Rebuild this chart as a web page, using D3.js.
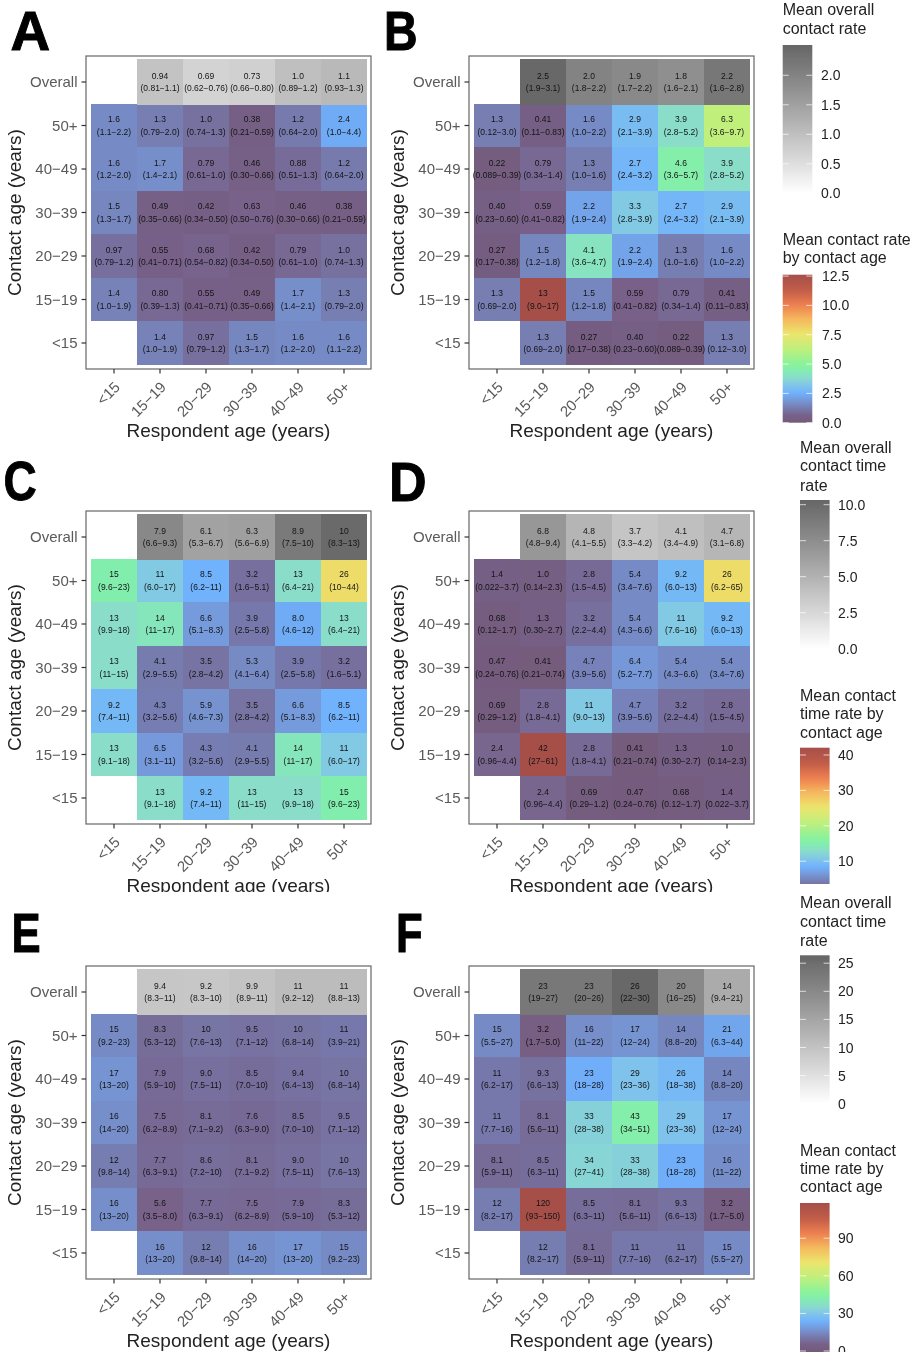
<!DOCTYPE html>
<html>
<head>
<meta charset="utf-8">
<script src="https://cdn.jsdelivr.net/npm/d3@7"></script>
<style>
html,body{margin:0;padding:0;background:#fff;overflow:hidden}
svg{display:block}
text{font-family:"Liberation Sans",Arial,sans-serif}
</style>
</head>
<body>
<svg id="chart" width="919" height="1352"></svg>
<script>
const respondentAges = ["<15","15−19","20−29","30−39","40−49","50+"];
const contactAges = ["Overall","50+","40−49","30−39","20−29","15−19","<15"];

const valuesA = [
 [null,0.94,0.69,0.73,1.0,1.1],
 [1.6,1.3,1.0,0.38,1.2,2.4],
 [1.6,1.7,0.79,0.46,0.88,1.2],
 [1.5,0.49,0.42,0.63,0.46,0.38],
 [0.97,0.55,0.68,0.42,0.79,1.0],
 [1.4,0.80,0.55,0.49,1.7,1.3],
 [null,1.4,0.97,1.5,1.6,1.6]];
const intervalsA = [
 [null,"0.81−1.1","0.62−0.76","0.66−0.80","0.89−1.2","0.93−1.3"],
 ["1.1−2.2","0.79−2.0","0.74−1.3","0.21−0.59","0.64−2.0","1.0−4.4"],
 ["1.2−2.0","1.4−2.1","0.61−1.0","0.30−0.66","0.51−1.3","0.64−2.0"],
 ["1.3−1.7","0.35−0.66","0.34−0.50","0.50−0.76","0.30−0.66","0.21−0.59"],
 ["0.79−1.2","0.41−0.71","0.54−0.82","0.34−0.50","0.61−1.0","0.74−1.3"],
 ["1.0−1.9","0.39−1.3","0.41−0.71","0.35−0.66","1.4−2.1","0.79−2.0"],
 [null,"1.0−1.9","0.79−1.2","1.3−1.7","1.2−2.0","1.1−2.2"]];

const valuesB = [
 [null,2.5,2.0,1.9,1.8,2.2],
 [1.3,0.41,1.6,2.9,3.9,6.3],
 [0.22,0.79,1.3,2.7,4.6,3.9],
 [0.40,0.59,2.2,3.3,2.7,2.9],
 [0.27,1.5,4.1,2.2,1.3,1.6],
 [1.3,13,1.5,0.59,0.79,0.41],
 [null,1.3,0.27,0.40,0.22,1.3]];
const intervalsB = [
 [null,"1.9−3.1","1.8−2.2","1.7−2.2","1.6−2.1","1.6−2.8"],
 ["0.12−3.0","0.11−0.83","1.0−2.2","2.1−3.9","2.8−5.2","3.6−9.7"],
 ["0.089−0.39","0.34−1.4","1.0−1.6","2.4−3.2","3.6−5.7","2.8−5.2"],
 ["0.23−0.60","0.41−0.82","1.9−2.4","2.8−3.9","2.4−3.2","2.1−3.9"],
 ["0.17−0.38","1.2−1.8","3.6−4.7","1.9−2.4","1.0−1.6","1.0−2.2"],
 ["0.69−2.0","9.0−17","1.2−1.8","0.41−0.82","0.34−1.4","0.11−0.83"],
 [null,"0.69−2.0","0.17−0.38","0.23−0.60","0.089−0.39","0.12−3.0"]];

const valuesC = [
 [null,7.9,6.1,6.3,8.9,10],
 [15,11,8.5,3.2,13,26],
 [13,14,6.6,3.9,8.0,13],
 [13,4.1,3.5,5.3,3.9,3.2],
 [9.2,4.3,5.9,3.5,6.6,8.5],
 [13,6.5,4.3,4.1,14,11],
 [null,13,9.2,13,13,15]];
const intervalsC = [
 [null,"6.6−9.3","5.3−6.7","5.6−6.9","7.5−10","8.3−13"],
 ["9.6−23","6.0−17","6.2−11","1.6−5.1","6.4−21","10−44"],
 ["9.9−18","11−17","5.1−8.3","2.5−5.8","4.6−12","6.4−21"],
 ["11−15","2.9−5.5","2.8−4.2","4.1−6.4","2.5−5.8","1.6−5.1"],
 ["7.4−11","3.2−5.6","4.6−7.3","2.8−4.2","5.1−8.3","6.2−11"],
 ["9.1−18","3.1−11","3.2−5.6","2.9−5.5","11−17","6.0−17"],
 [null,"9.1−18","7.4−11","11−15","9.9−18","9.6−23"]];

const valuesD = [
 [null,6.8,4.8,3.7,4.1,4.7],
 [1.4,1.0,2.8,5.4,9.2,26],
 [0.68,1.3,3.2,5.4,11,9.2],
 [0.47,0.41,4.7,6.4,5.4,5.4],
 [0.69,2.8,11,4.7,3.2,2.8],
 [2.4,42,2.8,0.41,1.3,1.0],
 [null,2.4,0.69,0.47,0.68,1.4]];
const intervalsD = [
 [null,"4.8−9.4","4.1−5.5","3.3−4.2","3.4−4.9","3.1−6.8"],
 ["0.022−3.7","0.14−2.3","1.5−4.5","3.4−7.6","6.0−13","6.2−65"],
 ["0.12−1.7","0.30−2.7","2.2−4.4","4.3−6.6","7.6−16","6.0−13"],
 ["0.24−0.76","0.21−0.74","3.9−5.6","5.2−7.7","4.3−6.6","3.4−7.6"],
 ["0.29−1.2","1.8−4.1","9.0−13","3.9−5.6","2.2−4.4","1.5−4.5"],
 ["0.96−4.4","27−61","1.8−4.1","0.21−0.74","0.30−2.7","0.14−2.3"],
 [null,"0.96−4.4","0.29−1.2","0.24−0.76","0.12−1.7","0.022−3.7"]];

const valuesE = [
 [null,9.4,9.2,9.9,11,11],
 [15,8.3,10,9.5,10,11],
 [17,7.9,9.0,8.5,9.4,10],
 [16,7.5,8.1,7.6,8.5,9.5],
 [12,7.7,8.6,8.1,9.0,10],
 [16,5.6,7.7,7.5,7.9,8.3],
 [null,16,12,16,17,15]];
const intervalsE = [
 [null,"8.3−11","8.3−10","8.9−11","9.2−12","8.8−13"],
 ["9.2−23","5.3−12","7.6−13","7.1−12","6.8−14","3.9−21"],
 ["13−20","5.9−10","7.5−11","7.0−10","6.4−13","6.8−14"],
 ["14−20","6.2−8.9","7.1−9.2","6.3−9.0","7.0−10","7.1−12"],
 ["9.8−14","6.3−9.1","7.2−10","7.1−9.2","7.5−11","7.6−13"],
 ["13−20","3.5−8.0","6.3−9.1","6.2−8.9","5.9−10","5.3−12"],
 [null,"13−20","9.8−14","14−20","13−20","9.2−23"]];

const valuesF = [
 [null,23,23,26,20,14],
 [15,3.2,16,17,14,21],
 [11,9.3,23,29,26,14],
 [11,8.1,33,43,29,17],
 [8.1,8.5,34,33,23,16],
 [12,120,8.5,8.1,9.3,3.2],
 [null,12,8.1,11,11,15]];
const intervalsF = [
 [null,"19−27","20−26","22−30","16−25","9.4−21"],
 ["5.5−27","1.7−5.0","11−22","12−24","8.8−20","6.3−44"],
 ["6.2−17","6.6−13","18−28","23−36","18−38","8.8−20"],
 ["7.7−16","5.6−11","28−38","34−51","23−36","12−24"],
 ["5.9−11","6.3−11","27−41","28−38","18−28","11−22"],
 ["8.2−17","93−150","6.3−11","5.6−11","6.6−13","1.7−5.0"],
 [null,"8.2−17","5.9−11","7.7−16","6.2−17","5.5−27"]];

// colour ramp (position along the bar, colour)
const rainbowPositions = [0,0.05,0.1,0.15,0.2,0.25,0.3,0.36,0.4,0.5,0.6,0.7,0.8,0.9,1];
const rainbowColours = ["#735a7a","#78628a","#767cb0","#7697d6","#6fb1fd","#80c4ea","#8adace","#82efac","#8cf29a","#c0ef7c","#ece56c","#f5b85e","#ec7e50","#c05c48","#a64f4a"];
const grayHigh = "#666666";

const overallMaxAB = 2.51, cellMaxAB = 12.6;
const overallMaxCD = 10.33, cellMaxCD = 42;
const overallMaxEF = 26.4, cellMaxEF = 118;

const rainbow = d3.scaleLinear().domain(rainbowPositions).range(rainbowColours).interpolate(d3.interpolateRgb).clamp(true);
const rainbowScale = max => v => rainbow(v/max);
const grayScale = max => d3.scaleLinear().domain([0,max]).range(["#ffffff",grayHigh]).interpolate(d3.interpolateLab).clamp(true);

const fmt = d3.format(".2r");
const svg = d3.select("#chart");
const defs = svg.append("defs");
defs.append("filter").attr("id","soft").attr("x",0).attr("y",0).attr("width",1).attr("height",1)
  .attr("filterUnits","objectBoundingBox")
  .append("feGaussianBlur").attr("stdDeviation",0.4);
const root = svg.append("g").attr("filter","url(#soft)");
root.append("rect").attr("width",919).attr("height",1352).attr("fill","#fff");

const panels = [
 {letter:"A",dx:0,dy:0,lx:10.5,ly:50,ls:0.98,values:valuesA,intervals:intervalsA,oMax:overallMaxAB,cMax:cellMaxAB},
 {letter:"B",dx:383,dy:0,lx:384,ly:50,ls:0.83,values:valuesB,intervals:intervalsB,oMax:overallMaxAB,cMax:cellMaxAB},
 {letter:"C",dx:0,dy:455,lx:3.5,ly:500,ls:0.82,values:valuesC,intervals:intervalsC,oMax:overallMaxCD,cMax:cellMaxCD,clip:892},
 {letter:"D",dx:383,dy:455,lx:389,ly:501,ls:0.93,values:valuesD,intervals:intervalsD,oMax:overallMaxCD,cMax:cellMaxCD,clip:892},
 {letter:"E",dx:0,dy:910,lx:11.5,ly:952,ls:0.78,values:valuesE,intervals:intervalsE,oMax:overallMaxEF,cMax:cellMaxEF},
 {letter:"F",dx:383,dy:910,lx:396,ly:952,ls:0.78,values:valuesF,intervals:intervalsF,oMax:overallMaxEF,cMax:cellMaxEF}
];

const frame = {left:86,right:371,top:56,bottom:369};
const x = d3.scaleBand().domain(respondentAges).range([91,367]);
const y = d3.scaleBand().domain(contactAges).range([60.25,364.75]);

defs.append("clipPath").attr("id","cut").append("rect")
  .attr("x",-10).attr("y",-10).attr("width",400).attr("height",447);

panels.forEach(p=>{
  const g = root.append("g").attr("transform",`translate(${p.dx},${p.dy})`);
  const gray = grayScale(p.oMax), col = rainbowScale(p.cMax);
  const cells = [];
  p.values.forEach((row,ri)=>row.forEach((v,ci)=>{
    if(v!==null) cells.push({row:contactAges[ri],col:respondentAges[ci],v,ci:p.intervals[ri][ci]});
  }));
  g.append("g").selectAll("rect").data(cells.filter(d=>d.row!=="Overall")).join("rect")
    .attr("x",d=>x(d.col)).attr("y",d=>y(d.row))
    .attr("width",x.bandwidth()).attr("height",y.bandwidth())
    .attr("shape-rendering","crispEdges")
    .attr("fill",d=>col(d.v));
  g.append("g").selectAll("rect").data(cells.filter(d=>d.row==="Overall")).join("rect")
    .attr("x",d=>x(d.col)).attr("y",y("Overall")-1.5)
    .attr("width",x.bandwidth()).attr("height",y.bandwidth()+3)
    .attr("shape-rendering","crispEdges")
    .attr("fill",d=>gray(d.v));
  const lab = g.append("g").attr("text-anchor","middle").attr("fill","#141414").attr("font-size",8.5);
  lab.selectAll("text.v").data(cells).join("text").attr("class","v")
    .attr("x",d=>x(d.col)+x.bandwidth()/2).attr("y",d=>y(d.row)+y.bandwidth()/2-3.5)
    .text(d=>fmt(d.v));
  lab.selectAll("text.i").data(cells).join("text").attr("class","i")
    .attr("x",d=>x(d.col)+x.bandwidth()/2).attr("y",d=>y(d.row)+y.bandwidth()/2+9)
    .text(d=>`(${d.ci})`);
  g.append("rect").attr("x",frame.left).attr("y",frame.top)
    .attr("width",frame.right-frame.left).attr("height",frame.bottom-frame.top)
    .attr("fill","none").attr("stroke","#666").attr("stroke-width",1.2);

  const ax = g.append("g").attr("transform",`translate(0,${frame.bottom})`)
    .call(d3.axisBottom(x).tickSize(4.5).tickSizeOuter(0));
  ax.select(".domain").remove();
  ax.selectAll("line").attr("stroke","#333").attr("stroke-width",1.2);
  ax.selectAll("text").attr("font-size",15).attr("fill","#5a5a5a")
    .attr("text-anchor","end").attr("dy",null).attr("y",null)
    .attr("transform","translate(7,19) rotate(-45)");
  const ay = g.append("g").attr("transform",`translate(${frame.left},0)`)
    .call(d3.axisLeft(y).tickSize(4.5).tickSizeOuter(0));
  ay.select(".domain").remove();
  ay.selectAll("line").attr("stroke","#333").attr("stroke-width",1.2);
  ay.selectAll("text").attr("font-size",15).attr("fill","#5a5a5a").attr("x",-8.5).attr("dy","0.34em");
  ax.attr("font-family",null); ay.attr("font-family",null);

  const xt = g.append("text").attr("x",(frame.left+frame.right)/2).attr("y",436.7)
    .attr("text-anchor","middle").attr("font-size",19).attr("fill","#222").text("Respondent age (years)");
  if(p.clip) xt.attr("clip-path","url(#cut)");
  g.append("text").attr("transform",`translate(21,${(frame.top+frame.bottom)/2}) rotate(-90)`)
    .attr("text-anchor","middle").attr("font-size",19).attr("fill","#222").text("Contact age (years)");
  root.append("text").attr("transform",`translate(${p.lx},${p.ly}) scale(${p.ls},1)`)
    .attr("font-family","Open Sans").attr("font-weight",700)
    .attr("font-size",56).attr("fill","#000").attr("stroke","#000").attr("stroke-width",1).text(p.letter);
});

const legends = [
 {title:["Mean overall","contact rate"],x:782.7,baselines:[15,34],top:45,bottom:193.3,ticks:[0,0.5,1,1.5,2],fmtT:d3.format(".1f"),labelX:821,
  max:overallMaxAB,zero:193.3,perUnit:59,kind:"gray"},
 {title:["Mean contact rate","by contact age"],x:782.7,baselines:[245,263],top:274.7,bottom:422.7,ticks:[0,2.5,5,7.5,10,12.5],fmtT:d3.format(".1f"),labelX:822,
  max:cellMaxAB,zero:422.7,perUnit:11.73,kind:"rainbow"},
 {title:["Mean overall","contact time","rate"],x:800,baselines:[452.5,471,490.5],top:500,bottom:648.7,ticks:[0,2.5,5,7.5,10],fmtT:d3.format(".1f"),labelX:838,
  max:overallMaxCD,zero:648.7,perUnit:14.4,kind:"gray"},
 {title:["Mean contact","time rate by","contact age"],x:800,baselines:[700.5,719,737.5],top:747.7,bottom:884,ticks:[10,20,30,40],fmtT:d3.format("d"),labelX:838,
  max:cellMaxCD,zero:896.6,perUnit:3.54,kind:"rainbow"},
 {title:["Mean overall","contact time","rate"],x:800,baselines:[908,926.5,945.5],top:955.3,bottom:1103.7,ticks:[0,5,10,15,20,25],fmtT:d3.format("d"),labelX:838,
  max:overallMaxEF,zero:1103.7,perUnit:5.62,kind:"gray"},
 {title:["Mean contact","time rate by","contact age"],x:800,baselines:[1155.5,1174,1192],top:1203,bottom:1352,ticks:[0,30,60,90],fmtT:d3.format("d"),labelX:838,
  max:cellMaxEF,zero:1351,perUnit:1.253,kind:"rainbow"}
];
const barW = 29.6;
legends.forEach((l,i)=>{
  const g = root.append("g");
  g.selectAll("text.t").data(l.title).join("text").attr("class","t")
    .attr("x",l.x).attr("y",(d,j)=>l.baselines[j]).attr("font-size",16).attr("fill","#222").text(d=>d);
  const scale = d3.scaleLinear().domain([0,1]).range([l.zero,l.zero-l.perUnit]);
  const id = "lg"+i;
  const grad = defs.append("linearGradient").attr("id",id).attr("x1",0).attr("x2",0).attr("y1",0).attr("y2",1);
  const colour = l.kind==="gray"?grayScale(l.max):rainbowScale(l.max);
  d3.range(0,41).forEach(k=>{
    const f=k/40, yy=l.top+f*(l.bottom-l.top), v=scale.invert(yy);
    grad.append("stop").attr("offset",f).attr("stop-color",colour(v));
  });
  g.append("rect").attr("x",l.x).attr("y",l.top).attr("width",barW).attr("height",l.bottom-l.top)
    .attr("fill",`url(#${id})`);
  const tk = g.append("g");
  tk.selectAll("line.a").data(l.ticks).join("line").attr("class","a")
    .attr("x1",l.x).attr("x2",l.x+6).attr("y1",d=>scale(d)).attr("y2",d=>scale(d)).attr("stroke","#fff").attr("stroke-opacity",.7);
  tk.selectAll("line.b").data(l.ticks).join("line").attr("class","b")
    .attr("x1",l.x+barW-6).attr("x2",l.x+barW).attr("y1",d=>scale(d)).attr("y2",d=>scale(d)).attr("stroke","#fff").attr("stroke-opacity",.7);
  g.selectAll("text.l").data(l.ticks).join("text").attr("class","l")
    .attr("x",l.labelX).attr("y",d=>scale(d)).attr("dy","0.36em").attr("font-size",14).attr("fill","#222")
    .text(d=>l.fmtT(d));
});
</script>
</body>
</html>
